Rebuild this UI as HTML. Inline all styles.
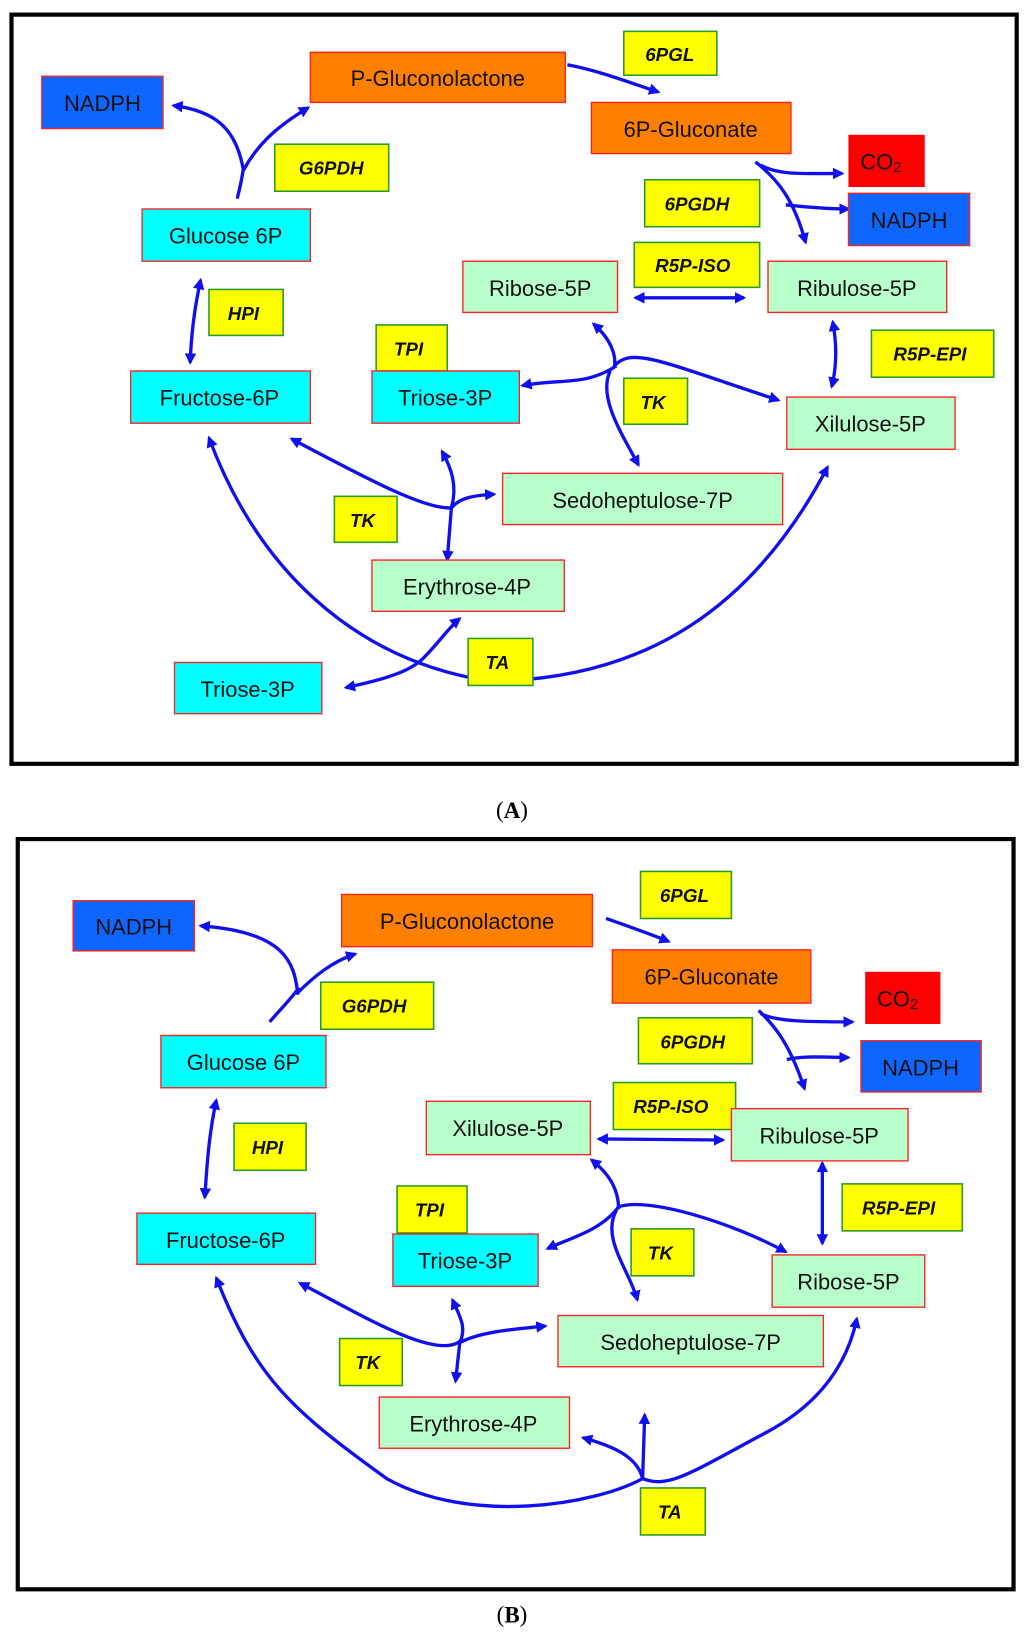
<!DOCTYPE html>
<html><head><meta charset="utf-8"><style>
html,body{margin:0;padding:0;background:#fff;}
svg{display:block;}
.b{stroke:#ff2020;stroke-width:1.3;}
.e{fill:#ffff00;stroke:#2a9a2a;stroke-width:1.5;}
.t{font-family:"Liberation Sans",sans-serif;font-size:21px;fill:#111;text-anchor:middle;dominant-baseline:central;}
.k{font-family:"Liberation Sans",sans-serif;font-size:18px;font-weight:bold;font-style:italic;fill:#111;text-anchor:middle;dominant-baseline:central;}
.a{fill:none;stroke:#1010ee;stroke-width:3.2;}
.c{fill:#00ffff}.o{fill:#ff8000}.n{fill:#0f66ff}.r{fill:#ff0000}.m{fill:#b8ffcc}
</style></head><body>
<svg width="1024" height="1638" viewBox="0 0 980 1567.6" xmlns="http://www.w3.org/2000/svg">
<defs>
<marker id="h" viewBox="0 0 10 10" refX="8" refY="5" markerWidth="11" markerHeight="11" markerUnits="userSpaceOnUse" orient="auto-start-reverse"><path d="M0,0 L10,5 L0,10 z" fill="#1010ee"/></marker>
</defs>
<rect x="0" y="0" width="980" height="1568" fill="#fff"/>
<!-- Panel A -->
<rect x="11" y="14" width="962" height="717" fill="none" stroke="#000" stroke-width="4"/>
<text x="490" y="775" style="font-family:'Liberation Serif',serif;font-size:22px;" text-anchor="middle" dominant-baseline="central">(<tspan font-weight="bold">A</tspan>)</text>

<g>
<path class="a" d="M227,190 C230,178 232,170 233,160" />
<path class="a" d="M233,163 C226,122 205,106 166,101" marker-end="url(#h)"/>
<path class="a" d="M233,163 C248,135 270,118 295,103" marker-end="url(#h)"/>
<path class="a" d="M543,62 C575,68 605,80 630,88" marker-end="url(#h)"/>
<path class="a" d="M723,155 C745,172 760,192 771,232" marker-end="url(#h)"/>
<path class="a" d="M728,158 C745,168 770,166 806,166" marker-end="url(#h)"/>
<path class="a" d="M752,196 C770,198 790,200 812,200" marker-end="url(#h)"/>
<path class="a" d="M608,285 L712,285" marker-start="url(#h)" marker-end="url(#h)"/>
<path class="a" d="M797,308 C801,330 801,350 796,370" marker-start="url(#h)" marker-end="url(#h)"/>
<path class="a" d="M192,268 C186,295 183,320 182,347" marker-start="url(#h)" marker-end="url(#h)"/>
<path class="a" d="M568,310 C585,325 590,340 588,352" marker-start="url(#h)"/>
<path class="a" d="M590,350 C560,370 535,362 500,369" marker-end="url(#h)"/>
<path class="a" d="M588,350 C605,332 630,345 745,383" marker-end="url(#h)"/>
<path class="a" d="M584,355 C572,380 595,415 611,445" marker-end="url(#h)"/>
<path class="a" d="M279,420 C340,452 405,488 432,486" marker-start="url(#h)"/>
<path class="a" d="M432,486 C440,476 455,474 473,473" marker-end="url(#h)"/>
<path class="a" d="M432,486 C438,465 432,448 423,432" marker-end="url(#h)"/>
<path class="a" d="M432,486 L428,536" marker-end="url(#h)"/>
<path class="a" d="M200,419 C245,540 335,632 470,652 C620,650 722,580 792,447" marker-start="url(#h)" marker-end="url(#h)"/>
<path class="a" d="M331,658 C370,650 393,642 405,630 C420,615 430,600 440,592" marker-start="url(#h)" marker-end="url(#h)"/>
</g>

<rect class="b n" x="40" y="73" width="116" height="50"/><text class="t" x="98" y="99">NADPH</text>
<rect class="b o" x="297" y="50" width="244" height="48"/><text class="t" x="419" y="75">P-Gluconolactone</text>
<rect class="e" x="597" y="30" width="89" height="42"/><text class="k" x="641" y="52">6PGL</text>
<rect class="b o" x="566" y="98" width="191" height="49"/><text class="t" x="661" y="124">6P-Gluconate</text>
<rect class="r" x="812" y="129" width="73" height="50"/><text class="t" x="843" y="155">CO<tspan font-size="14" dy="6">2</tspan></text>
<rect class="e" x="263" y="138" width="109" height="45"/><text class="k" x="317" y="161">G6PDH</text>
<rect class="e" x="617" y="172" width="110" height="45"/><text class="k" x="667" y="195">6PGDH</text>
<rect class="b n" x="812" y="185" width="116" height="50"/><text class="t" x="870" y="211">NADPH</text>
<rect class="b c" x="136" y="200" width="161" height="50"/><text class="t" x="216" y="226">Glucose 6P</text>
<rect class="e" x="607" y="232" width="120" height="43"/><text class="k" x="663" y="254">R5P-ISO</text>
<rect class="b m" x="443" y="250" width="148" height="49"/><text class="t" x="517" y="276">Ribose-5P</text>
<rect class="b m" x="735" y="250" width="171" height="49"/><text class="t" x="820" y="276">Ribulose-5P</text>
<rect class="e" x="200" y="277" width="71" height="44"/><text class="k" x="233" y="300">HPI</text>
<rect class="e" x="360" y="311" width="68" height="44"/><text class="k" x="391" y="334">TPI</text>
<rect class="e" x="834" y="316" width="117" height="45"/><text class="k" x="890" y="339">R5P-EPI</text>
<rect class="b c" x="125" y="355" width="172" height="50"/><text class="t" x="210" y="381">Fructose-6P</text>
<rect class="b c" x="356" y="355" width="141" height="50"/><text class="t" x="426" y="381">Triose-3P</text>
<rect class="e" x="597" y="362" width="61" height="44"/><text class="k" x="625" y="385">TK</text>
<rect class="b m" x="753" y="380" width="161" height="50"/><text class="t" x="833" y="406">Xilulose-5P</text>
<rect class="b m" x="481" y="453" width="268" height="49"/><text class="t" x="615" y="479">Sedoheptulose-7P</text>
<rect class="e" x="320" y="475" width="60" height="44"/><text class="k" x="347" y="498">TK</text>
<rect class="b m" x="356" y="536" width="184" height="49"/><text class="t" x="447" y="562">Erythrose-4P</text>
<rect class="e" x="448" y="611" width="62" height="45"/><text class="k" x="476" y="634">TA</text>
<rect class="b c" x="167" y="634" width="141" height="49"/><text class="t" x="237" y="660">Triose-3P</text>

<!-- Panel B -->
<rect x="17" y="803" width="953" height="718" fill="none" stroke="#000" stroke-width="4"/>
<text x="490" y="1545" style="font-family:'Liberation Serif',serif;font-size:22px;" text-anchor="middle" dominant-baseline="central">(<tspan font-weight="bold">B</tspan>)</text>

<g>
<path class="a" d="M258,978 C272,962 282,952 286,945"/>
<path class="a" d="M285,952 C282,920 272,892 192,886" marker-end="url(#h)"/>
<path class="a" d="M285,950 C300,935 318,920 340,913" marker-end="url(#h)"/>
<path class="a" d="M580,879 C600,886 620,893 640,901" marker-end="url(#h)"/>
<path class="a" d="M726,967 C742,982 756,1000 770,1042" marker-end="url(#h)"/>
<path class="a" d="M728,970 C742,978 780,978 816,978" marker-end="url(#h)"/>
<path class="a" d="M753,1014 C770,1010 790,1012 812,1012" marker-end="url(#h)"/>
<path class="a" d="M573,1090 L692,1091" marker-start="url(#h)" marker-end="url(#h)"/>
<path class="a" d="M787,1113 L787,1190" marker-start="url(#h)" marker-end="url(#h)"/>
<path class="a" d="M207,1053 C200,1085 198,1115 196,1146" marker-start="url(#h)" marker-end="url(#h)"/>
<path class="a" d="M566,1110 C585,1125 592,1140 592,1157" marker-start="url(#h)"/>
<path class="a" d="M592,1155 C575,1178 545,1185 524,1195" marker-end="url(#h)"/>
<path class="a" d="M592,1155 C620,1145 700,1170 752,1198" marker-end="url(#h)"/>
<path class="a" d="M590,1158 C575,1185 602,1215 610,1244" marker-end="url(#h)"/>
<path class="a" d="M287,1228 C340,1255 420,1305 442,1282" marker-start="url(#h)"/>
<path class="a" d="M440,1285 C460,1274 495,1272 522,1269" marker-end="url(#h)"/>
<path class="a" d="M440,1285 C447,1270 440,1260 433,1244" marker-end="url(#h)"/>
<path class="a" d="M440,1285 L436,1322" marker-end="url(#h)"/>
<path class="a" d="M207,1223 C245,1320 280,1350 370,1415 C450,1460 570,1440 615,1415" marker-start="url(#h)"/>
<path class="a" d="M615,1415 C640,1425 660,1410 735,1370 C790,1340 812,1300 820,1262" marker-end="url(#h)"/>
<path class="a" d="M615,1415 C610,1395 590,1385 558,1376" marker-end="url(#h)"/>
<path class="a" d="M615,1415 L617,1354" marker-end="url(#h)"/>
</g>

<rect class="b n" x="70" y="862" width="116" height="48"/><text class="t" x="128" y="887">NADPH</text>
<rect class="b o" x="327" y="856" width="240" height="50"/><text class="t" x="447" y="882">P-Gluconolactone</text>
<rect class="e" x="613" y="834" width="87" height="45"/><text class="k" x="655" y="857">6PGL</text>
<rect class="b o" x="586" y="909" width="190" height="51"/><text class="t" x="681" y="935">6P-Gluconate</text>
<rect class="r" x="828" y="930" width="72" height="50"/><text class="t" x="859" y="956">CO<tspan font-size="14" dy="6">2</tspan></text>
<rect class="e" x="307" y="940" width="108" height="45"/><text class="k" x="358" y="963">G6PDH</text>
<rect class="e" x="611" y="974" width="109" height="44"/><text class="k" x="663" y="997">6PGDH</text>
<rect class="b n" x="824" y="996" width="115" height="49"/><text class="t" x="881" y="1022">NADPH</text>
<rect class="b c" x="154" y="991" width="158" height="50"/><text class="t" x="233" y="1017">Glucose 6P</text>
<rect class="e" x="587" y="1036" width="117" height="45"/><text class="k" x="642" y="1059">R5P-ISO</text>
<rect class="b m" x="408" y="1054" width="157" height="51"/><text class="t" x="486" y="1080">Xilulose-5P</text>
<rect class="b m" x="700" y="1061" width="169" height="50"/><text class="t" x="784" y="1087">Ribulose-5P</text>
<rect class="e" x="224" y="1075" width="69" height="45"/><text class="k" x="256" y="1098">HPI</text>
<rect class="e" x="380" y="1135" width="67" height="45"/><text class="k" x="411" y="1158">TPI</text>
<rect class="e" x="806" y="1133" width="115" height="45"/><text class="k" x="860" y="1156">R5P-EPI</text>
<rect class="b c" x="131" y="1161" width="171" height="49"/><text class="t" x="216" y="1187">Fructose-6P</text>
<rect class="b c" x="376" y="1181" width="139" height="50"/><text class="t" x="445" y="1207">Triose-3P</text>
<rect class="e" x="604" y="1176" width="60" height="45"/><text class="k" x="632" y="1199">TK</text>
<rect class="b m" x="739" y="1201" width="146" height="50"/><text class="t" x="812" y="1227">Ribose-5P</text>
<rect class="b m" x="534" y="1259" width="254" height="49"/><text class="t" x="661" y="1285">Sedoheptulose-7P</text>
<rect class="e" x="325" y="1281" width="60" height="45"/><text class="k" x="352" y="1304">TK</text>
<rect class="b m" x="363" y="1337" width="182" height="49"/><text class="t" x="453" y="1363">Erythrose-4P</text>
<rect class="e" x="613" y="1424" width="62" height="45"/><text class="k" x="641" y="1447">TA</text>
</svg>
</body></html>
